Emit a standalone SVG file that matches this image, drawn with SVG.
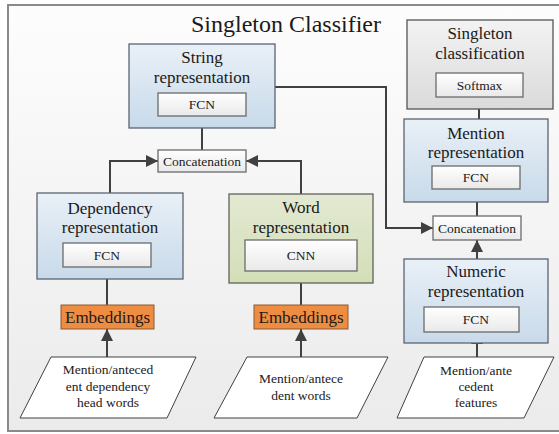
<svg xmlns="http://www.w3.org/2000/svg" width="559" height="434" viewBox="0 0 559 434">
<defs>
<linearGradient id="gFrame" x1="0" y1="0" x2="0" y2="1"><stop offset="0" stop-color="#fdfdfd"/><stop offset="1" stop-color="#ebebeb"/></linearGradient>
<linearGradient id="gBlue" x1="0" y1="0" x2="0" y2="1"><stop offset="0" stop-color="#e9f0f7"/><stop offset="1" stop-color="#c8daea"/></linearGradient>
<linearGradient id="gGreen" x1="0" y1="0" x2="0" y2="1"><stop offset="0" stop-color="#e3e9d2"/><stop offset="1" stop-color="#d3deb8"/></linearGradient>
<linearGradient id="gGray" x1="0" y1="0" x2="0" y2="1"><stop offset="0" stop-color="#f3f3f3"/><stop offset="1" stop-color="#dadada"/></linearGradient>
<linearGradient id="gWhite" x1="0" y1="0" x2="0" y2="1"><stop offset="0" stop-color="#ffffff"/><stop offset="1" stop-color="#e9e9e9"/></linearGradient>
<marker id="arr" markerUnits="userSpaceOnUse" markerWidth="12" markerHeight="12" refX="10" refY="5" orient="auto" viewBox="0 0 10 10"><path d="M0,0 L10,5 L0,10 z" fill="#404040"/></marker>
<style>
.frame{fill:url(#gFrame);stroke:#8a8a8a;stroke-width:2}
.blue{fill:url(#gBlue);stroke:#5a6571;stroke-width:1.3}
.green{fill:url(#gGreen);stroke:#5f6358;stroke-width:1.3}
.gray{fill:url(#gGray);stroke:#555;stroke-width:1.3}
.inner{fill:url(#gWhite);stroke:#6b6b6b;stroke-width:1.3}
.emb{fill:#ee8c42;stroke:#8a5a32;stroke-width:1}
.para{fill:#ffffff;stroke:#404040;stroke-width:1}
.t{font-family:"Liberation Serif","Times New Roman",serif;fill:#1a1a1a;text-anchor:middle}
.big{font-size:17px}
.sm{font-size:13.5px}
.title{font-size:24px}
.conn{fill:none;stroke:#404040;stroke-width:2;marker-end:url(#arr)}
</style>
</defs>
<rect class="frame" x="8" y="5" width="560" height="426"/>
<text class="t title" x="286" y="32">Singleton Classifier</text>

<g id="connectors">
<path class="conn" d="M202,150 L202,116"/>
<path class="conn" d="M110,193 L110,161 L158,161"/>
<path class="conn" d="M301,194 L301,161 L246,161"/>
<path class="conn" d="M107,305 L107,267"/>
<path class="conn" d="M107,357 L107,329"/>
<path class="conn" d="M301,305 L301,271"/>
<path class="conn" d="M301,357 L301,329"/>
<path class="conn" d="M477,357 L477,332"/>
<path class="conn" d="M477,259 L477,240"/>
<path class="conn" d="M477,216 L477,189"/>
<path class="conn" d="M479,119 L479,97"/>
<path class="conn" d="M275,87 L386,87 L386,228 L433,228"/>
</g>

<g id="string-rep">
<rect class="blue" x="129" y="44" width="146" height="84"/>
<text class="t big" x="202" y="63">String</text>
<text class="t big" x="202" y="83">representation</text>
<rect class="inner" x="158" y="93" width="88" height="23"/>
<text class="t sm" x="202" y="109">FCN</text>
</g>

<g id="concat-left">
<rect class="inner" x="158" y="150" width="88" height="22"/>
<text class="t sm" x="202" y="165.5">Concatenation</text>
</g>

<g id="dependency-rep">
<rect class="blue" x="37" y="193" width="146" height="86"/>
<text class="t big" x="110" y="214">Dependency</text>
<text class="t big" x="110" y="233">representation</text>
<rect class="inner" x="63" y="243" width="88" height="24"/>
<text class="t sm" x="107" y="259.5">FCN</text>
</g>

<g id="word-rep">
<rect class="green" x="229" y="194" width="144" height="89"/>
<text class="t big" x="301" y="213">Word</text>
<text class="t big" x="301" y="233">representation</text>
<rect class="inner" x="245" y="240" width="112" height="31"/>
<text class="t sm" x="301" y="260">CNN</text>
</g>

<g id="emb-left">
<rect class="emb" x="61" y="305" width="93" height="24"/>
<text class="t big" x="107.5" y="323">Embeddings</text>
</g>

<g id="emb-right">
<rect class="emb" x="254" y="305" width="94" height="24"/>
<text class="t big" x="301" y="323">Embeddings</text>
</g>

<g id="input-dep">
<polygon class="para" points="51,357 196,357 167,418 20,418"/>
<text class="t sm" x="108" y="374">Mention/anteced</text>
<text class="t sm" x="108" y="391">ent dependency</text>
<text class="t sm" x="108" y="407">head words</text>
</g>

<g id="input-words">
<polygon class="para" points="247,357 388,357 357,418 214,418"/>
<text class="t sm" x="301" y="383">Mention/antece</text>
<text class="t sm" x="301" y="400">dent words</text>
</g>

<g id="input-features">
<polygon class="para" points="424,357 554,357 524,418 397,418"/>
<text class="t sm" x="476" y="375">Mention/ante</text>
<text class="t sm" x="476" y="391">cedent</text>
<text class="t sm" x="476" y="407">features</text>
</g>

<g id="numeric-rep">
<rect class="blue" x="404" y="259" width="144" height="84"/>
<text class="t big" x="476" y="277">Numeric</text>
<text class="t big" x="476" y="297">representation</text>
<rect class="inner" x="424" y="307" width="95" height="25"/>
<text class="t sm" x="476" y="324">FCN</text>
</g>

<g id="concat-right">
<rect class="inner" x="433" y="216" width="88" height="24"/>
<text class="t sm" x="477" y="232.5">Concatenation</text>
</g>

<g id="mention-rep">
<rect class="blue" x="404" y="119" width="144" height="83"/>
<text class="t big" x="476" y="139">Mention</text>
<text class="t big" x="476" y="158">representation</text>
<rect class="inner" x="432" y="166" width="88" height="23"/>
<text class="t sm" x="476" y="182">FCN</text>
</g>

<g id="singleton-class">
<rect class="gray" x="407" y="20" width="146" height="89"/>
<text class="t big" x="480" y="39">Singleton</text>
<text class="t big" x="480" y="59">classification</text>
<rect class="inner" x="436" y="73" width="87" height="24"/>
<text class="t sm" x="479.5" y="89.5">Softmax</text>
</g>
</svg>
